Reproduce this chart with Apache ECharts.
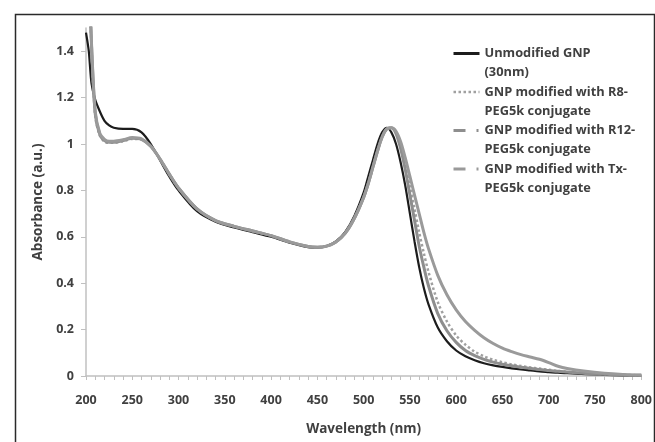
<!DOCTYPE html>
<html>
<head>
<meta charset="utf-8">
<script src="https://cdn.jsdelivr.net/npm/echarts@6/dist/echarts.min.js"></script>
<style>
html,body{margin:0;padding:0;background:#fff;}
#chart{width:655px;height:442px;}
</style>
</head>
<body>
<div id="chart"></div>
<script>
// Wavelength (nm)
var wavelengths = [200,203,206,210,215,220,225,230,240,250,260,270,280,290,300,320,340,360,380,400,420,440,450,460,470,480,490,500,505,510,515,520,525,530,535,540,545,550,555,560,565,570,580,590,600,610,620,630,640,650,660,670,680,690,700,710,720,740,760,780,800];

var unmodified = [1.48,1.40,1.26,1.19,1.14,1.10,1.08,1.07,1.065,1.065,1.05,1.00,0.93,0.86,0.80,0.71,0.665,0.64,0.62,0.60,0.575,0.555,0.553,0.56,0.58,0.62,0.69,0.79,0.86,0.93,1.00,1.05,1.07,1.05,1.00,0.92,0.82,0.70,0.58,0.47,0.38,0.31,0.21,0.15,0.11,0.085,0.068,0.055,0.046,0.039,0.033,0.028,0.024,0.02,0.017,0.014,0.012,0.008,0.005,0.003,0.002];

var r8 = [2.05,1.74,1.41,1.12,1.035,1.01,1.005,1.005,1.012,1.022,1.02,0.99,0.935,0.87,0.81,0.72,0.67,0.645,0.625,0.605,0.578,0.558,0.555,0.56,0.578,0.615,0.68,0.77,0.83,0.90,0.97,1.03,1.065,1.07,1.05,1.00,0.92,0.82,0.72,0.62,0.53,0.45,0.32,0.235,0.175,0.135,0.105,0.085,0.07,0.059,0.05,0.043,0.037,0.032,0.027,0.022,0.018,0.012,0.008,0.005,0.003];

var r12 = [2.05,1.75,1.42,1.13,1.04,1.015,1.008,1.008,1.015,1.025,1.02,0.99,0.935,0.87,0.81,0.72,0.67,0.645,0.625,0.605,0.578,0.558,0.555,0.56,0.578,0.615,0.68,0.77,0.83,0.90,0.97,1.03,1.065,1.07,1.045,0.98,0.89,0.78,0.67,0.56,0.47,0.39,0.27,0.195,0.145,0.11,0.088,0.072,0.06,0.051,0.044,0.038,0.033,0.028,0.024,0.02,0.017,0.011,0.007,0.004,0.003];

var tx = [2.05,1.76,1.43,1.14,1.045,1.02,1.012,1.012,1.018,1.028,1.022,0.99,0.935,0.87,0.81,0.72,0.67,0.645,0.625,0.605,0.578,0.558,0.555,0.56,0.578,0.615,0.68,0.77,0.83,0.90,0.97,1.03,1.065,1.07,1.055,1.01,0.94,0.86,0.78,0.70,0.62,0.55,0.435,0.35,0.285,0.235,0.197,0.165,0.14,0.12,0.105,0.092,0.082,0.072,0.058,0.042,0.032,0.02,0.012,0.007,0.004];

var seriesNames = ['Unmodified GNP\n(30nm)','GNP modified with R8-\nPEG5k conjugate','GNP modified with R12-\nPEG5k conjugate','GNP modified with Tx-\nPEG5k conjugate'];

function pairs(vals){ return wavelengths.map(function(w,i){ return [w, vals[i]]; }); }

var chart = echarts.init(document.getElementById('chart'));
var FONT = '"Open Sans", "Liberation Sans", sans-serif';
var TXT = '#404040';
var noSym = {color: 'rgba(0,0,0,0)', borderColor: 'rgba(0,0,0,0)', borderWidth: 0};

chart.setOption({
  animation: false,
  backgroundColor: '#fff',
  graphic: [{
    type: 'rect', left: 13, top: 12, z: -1, silent: true,
    shape: {width: 639, height: 440},
    style: {fill: 'none', stroke: '#2a2a2a', lineWidth: 1.5}
  }],
  grid: {left: 86, right: 10, top: 28, bottom: 66, containLabel: false},
  legend: {
    orient: 'vertical', left: 452, top: 25, padding: 0,
    itemWidth: 26, itemHeight: 12, itemGap: -18.5,
    formatter: function(name){ return '\n' + name; },
    textStyle: {fontFamily: FONT, fontWeight: 'bold', fontSize: 12.8, color: TXT, lineHeight: 19},
    data: [
      {name: seriesNames[0], itemStyle: noSym, lineStyle: {color: '#1c1c1c', width: 3, type: 'solid'}},
      {name: seriesNames[1], itemStyle: noSym, lineStyle: {color: '#a0a0a0', width: 2.5, type: 'dotted'}},
      {name: seriesNames[2], itemStyle: noSym, lineStyle: {color: '#8e8e8e', width: 3, type: [12, 11, 2, 10]}},
      {name: seriesNames[3], itemStyle: noSym, lineStyle: {color: '#9a9a9a', width: 3, type: [12, 11, 2, 10]}}
    ]
  },
  xAxis: {
    type: 'value', min: 200, max: 800, interval: 50,
    name: 'Wavelength (nm)', nameLocation: 'middle', nameGap: 46,
    nameTextStyle: {fontFamily: FONT, fontWeight: 'bold', fontSize: 13.5, color: TXT},
    axisLine: {show: true, lineStyle: {color: '#c0c0c0', width: 1.5}},
    axisTick: {show: true, length: 4, lineStyle: {color: '#c0c0c0'}},
    minorTick: {show: true, splitNumber: 5, length: 4, lineStyle: {color: '#c0c0c0'}},
    splitLine: {show: false},
    axisLabel: {fontFamily: FONT, fontWeight: 'bold', fontSize: 12.5, color: TXT, margin: 18}
  },
  yAxis: {
    type: 'value', min: 0, max: 1.5, interval: 0.2,
    name: 'Absorbance (a.u.)', nameLocation: 'middle', nameGap: 40,
    nameTextStyle: {fontFamily: FONT, fontWeight: 'bold', fontSize: 13.5, color: TXT},
    axisLine: {show: true, lineStyle: {color: '#c0c0c0', width: 1.5}},
    axisTick: {show: true, inside: false, length: 5, lineStyle: {color: '#c0c0c0'}},
    splitLine: {show: false},
    axisLabel: {fontFamily: FONT, fontWeight: 'bold', fontSize: 12.5, color: TXT, margin: 12, showMaxLabel: false,
      formatter: function(v){ return Math.round(v*10)/10 + ''; }}
  },
  series: [
    {name: seriesNames[0], type: 'line', data: pairs(unmodified), showSymbol: false, symbol: 'none', smooth: 0.3, clip: true,
      lineStyle: {color: '#1c1c1c', width: 2.2}, itemStyle: {color: '#1c1c1c'}},
    {name: seriesNames[1], type: 'line', data: pairs(r8), showSymbol: false, symbol: 'none', smooth: 0.3, clip: true,
      lineStyle: {color: '#a0a0a0', width: 2.5, type: 'dotted'}, itemStyle: {color: '#a0a0a0'}},
    {name: seriesNames[2], type: 'line', data: pairs(r12), showSymbol: false, symbol: 'none', smooth: 0.3, clip: true,
      lineStyle: {color: '#8e8e8e', width: 3}, itemStyle: {color: '#8e8e8e'}},
    {name: seriesNames[3], type: 'line', data: pairs(tx), showSymbol: false, symbol: 'none', smooth: 0.3, clip: true,
      lineStyle: {color: '#9a9a9a', width: 3}, itemStyle: {color: '#9a9a9a'}}
  ]
});
</script>
</body>
</html>
